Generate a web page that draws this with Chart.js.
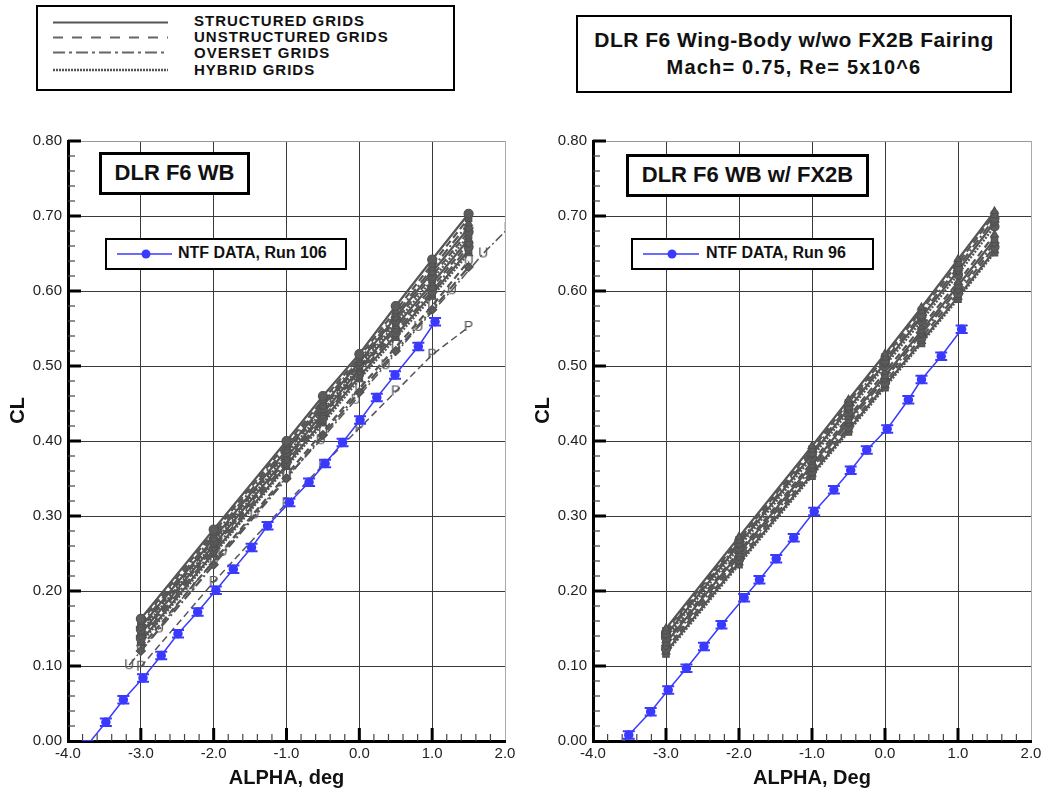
<!DOCTYPE html>
<html>
<head>
<meta charset="utf-8">
<title>DLR F6 CL vs ALPHA</title>
<script src="https://cdn.jsdelivr.net/npm/chart.js@4.4.1/dist/chart.umd.min.js"></script>
<style>
    body { margin: 0; background: #fff; font-family: "Liberation Sans", Arial, sans-serif; }
    #page { position: relative; width: 1048px; height: 793px; overflow: hidden; background: #fff; }
    canvas { position: absolute; }
    .box { position: absolute; box-sizing: border-box; border: 2.5px solid #000; background: #fff; }
    .txt { position: absolute; font-weight: bold; color: #111; white-space: nowrap; }
    svg { position: absolute; left: 0; top: 0; }
</style>
</head>
<body>
<div id="page">
    <canvas id="chart_wb" width="520" height="683" style="left:0; top:110px;"></canvas>
    <canvas id="chart_fx2b" width="523" height="683" style="left:525px; top:110px;"></canvas>

    <!-- grid type legend -->
    <div class="box" style="left:36px; top:5px; width:419px; height:86px;"></div>
    <div class="txt" style="left:194px; top:12px; font-size:15px; letter-spacing:1px;">STRUCTURED GRIDS</div>
    <div class="txt" style="left:194px; top:28px; font-size:15px; letter-spacing:1px;">UNSTRUCTURED GRIDS</div>
    <div class="txt" style="left:194px; top:44px; font-size:15px; letter-spacing:1px;">OVERSET GRIDS</div>
    <div class="txt" style="left:194px; top:61px; font-size:15px; letter-spacing:1px;">HYBRID GRIDS</div>

    <!-- title box -->
    <div class="box" style="left:576px; top:15px; width:436px; height:78px;"></div>
    <div class="txt" style="left:576px; width:436px; top:28px; font-size:21px; letter-spacing:0.5px; text-align:center;">DLR F6 Wing-Body w/wo FX2B Fairing</div>
    <div class="txt" style="left:576px; width:436px; top:56px; font-size:20px; letter-spacing:1.2px; text-align:center;">Mach= 0.75, Re= 5x10^6</div>

    <!-- labels inside the plots -->
    <div class="box" style="left:99px; top:152px; width:151px; height:43px; border-width:3px;"></div>
    <div class="txt" style="left:99px; width:151px; top:160px; font-size:22px; text-align:center;">DLR F6 WB</div>
    <div class="box" style="left:105px; top:238px; width:242px; height:32px;"></div>
    <div class="txt" style="left:178px; top:244px; font-size:16px;">NTF DATA, Run 106</div>

    <div class="box" style="left:626px; top:154px; width:243px; height:43px; border-width:3px;"></div>
    <div class="txt" style="left:626px; width:243px; top:162px; font-size:22px; text-align:center;">DLR F6 WB w/ FX2B</div>
    <div class="box" style="left:631px; top:238px; width:243px; height:32px;"></div>
    <div class="txt" style="left:706px; top:244px; font-size:16px;">NTF DATA, Run 96</div>

    <svg width="1048" height="300">
        <line x1="53" y1="22.5" x2="168" y2="22.5" stroke="#555" stroke-width="2"/>
        <line x1="53" y1="37.5" x2="168" y2="37.5" stroke="#666" stroke-width="2" stroke-dasharray="10,9"/>
        <line x1="53" y1="52.5" x2="168" y2="52.5" stroke="#666" stroke-width="2" stroke-dasharray="12,4,3,4"/>
        <line x1="53" y1="70" x2="168" y2="70" stroke="#555" stroke-width="2.5" stroke-dasharray="2,1"/>
        <line x1="117" y1="254" x2="172" y2="254" stroke="#3a3aff" stroke-width="1.5"/>
        <circle cx="146" cy="254" r="4.5" fill="#3a3aff"/>
        <line x1="643" y1="254" x2="699" y2="254" stroke="#3a3aff" stroke-width="1.5"/>
        <circle cx="672" cy="254" r="4.5" fill="#3a3aff"/>
    </svg>
</div>

<script>
// Alpha values of the CFD polars (deg)
var alphaCfd = [-3.0, -2.0, -1.0, -0.5, 0.0, 0.5, 1.0, 1.5];

// DLR F6 WB - CFD CL, one array per solution
var wbStruct1 = [0.163, 0.282, 0.400, 0.460, 0.516, 0.580, 0.642, 0.703];
var wbUnstr1  = [0.159, 0.278, 0.396, 0.455, 0.512, 0.574, 0.636, 0.697];
var wbOver1   = [0.155, 0.274, 0.392, 0.451, 0.508, 0.569, 0.630, 0.690];
var wbStruct2 = [0.152, 0.270, 0.388, 0.447, 0.505, 0.565, 0.625, 0.684];
var wbUnstr2  = [0.149, 0.267, 0.385, 0.444, 0.502, 0.561, 0.620, 0.679];
var wbHybrid1 = [0.146, 0.264, 0.382, 0.441, 0.499, 0.557, 0.615, 0.674];
var wbStruct3 = [0.143, 0.261, 0.378, 0.437, 0.496, 0.553, 0.610, 0.669];
var wbUnstr3  = [0.140, 0.258, 0.375, 0.434, 0.493, 0.549, 0.605, 0.664];
var wbOver2   = [0.137, 0.255, 0.372, 0.431, 0.490, 0.545, 0.600, 0.659];
var wbStruct4 = [0.133, 0.251, 0.368, 0.427, 0.486, 0.541, 0.596, 0.654];
var wbHybrid2 = [0.130, 0.248, 0.365, 0.423, 0.482, 0.537, 0.592, 0.650];
var wbUnstr4  = [0.125, 0.240, 0.355, 0.412, 0.470, 0.525, 0.580, 0.640];
var wbOver3   = [0.120, 0.235, 0.350, 0.408, 0.465, 0.520, 0.575, 0.632];

// DLR F6 WB - outlier solutions drawn with letter symbols
var wbUAlpha = [-3.16, -2.75, -2.32, -1.88, -1.44, -1.00, -0.53, -0.05, 0.36, 0.81, 1.27, 1.70, 2.05];
var wbUCL    = [0.101, 0.150, 0.204, 0.252, 0.302, 0.352, 0.401, 0.455, 0.501, 0.552, 0.601, 0.650, 0.684];
var wbPCL    = [0.099, 0.212, 0.317, 0.368, 0.417, 0.466, 0.515, 0.552];

// DLR F6 WB w/ FX2B - CFD CL
var fxStruct1 = [0.150, 0.272, 0.393, 0.455, 0.516, 0.578, 0.642, 0.706];
var fxUnstr1  = [0.147, 0.268, 0.389, 0.451, 0.512, 0.574, 0.637, 0.702];
var fxOver1   = [0.144, 0.265, 0.385, 0.447, 0.508, 0.569, 0.632, 0.697];
var fxStruct2 = [0.141, 0.262, 0.382, 0.443, 0.504, 0.565, 0.627, 0.692];
var fxHybrid1 = [0.138, 0.258, 0.378, 0.439, 0.500, 0.560, 0.622, 0.686];
var fxUnstr2  = [0.134, 0.253, 0.372, 0.432, 0.492, 0.552, 0.612, 0.675];
var fxStruct3 = [0.131, 0.250, 0.368, 0.428, 0.487, 0.547, 0.607, 0.669];
var fxOver2   = [0.127, 0.246, 0.364, 0.424, 0.483, 0.543, 0.602, 0.664];
var fxUnstr3  = [0.123, 0.242, 0.360, 0.419, 0.478, 0.538, 0.597, 0.659];
var fxStruct4 = [0.119, 0.238, 0.356, 0.415, 0.474, 0.533, 0.592, 0.654];
var fxHybrid2 = [0.116, 0.235, 0.353, 0.412, 0.471, 0.530, 0.589, 0.651];

// NTF test data
var ntf106Alpha = [-3.73, -3.48, -3.24, -2.97, -2.72, -2.49, -2.22, -1.97, -1.73, -1.48, -1.26, -0.96, -0.69, -0.47, -0.23, 0.01, 0.24, 0.49, 0.81, 1.04];
var ntf106CL    = [-0.005, 0.025, 0.055, 0.084, 0.114, 0.143, 0.172, 0.201, 0.229, 0.258, 0.287, 0.318, 0.345, 0.370, 0.398, 0.428, 0.458, 0.488, 0.526, 0.559];
var ntf96Alpha  = [-3.76, -3.51, -3.21, -2.97, -2.72, -2.48, -2.24, -1.93, -1.72, -1.49, -1.25, -0.97, -0.70, -0.47, -0.25, 0.03, 0.32, 0.50, 0.77, 1.05];
var ntf96CL     = [-0.022, 0.008, 0.039, 0.068, 0.097, 0.126, 0.155, 0.191, 0.215, 0.243, 0.271, 0.306, 0.335, 0.361, 0.388, 0.416, 0.455, 0.482, 0.513, 0.549];
var ntfErr = 0.005;

// Axis ticks
var xTickStep = 1.0, xMinorStep = 0.2;
var yTickStep = 0.1, yMinorStep = 0.02;

var cfdColor = '#555555';
var ntfColor = '#3a3aff';
var dashStyles = {
    structured: [],
    unstructured: [7, 4],
    overset: [9, 3, 2, 3],
    hybrid: [2, 1.5]
};

// Tecplot style ticks drawn inside the frame
var innerTicksPlugin = {
    id: 'innerTicks',
    afterDatasetsDraw: function(chart) {
        var ctx = chart.ctx;
        var xs = chart.scales.x, ys = chart.scales.y;
        var area = chart.chartArea;
        var i, n, v, p, bMajor;
        ctx.save();
        n = Math.round((xs.max - xs.min) / xMinorStep);
        for (i = 1; i < n; i++) {
            v = xs.min + i * xMinorStep;
            p = xs.getPixelForValue(v);
            bMajor = i % Math.round(xTickStep / xMinorStep) === 0;
            ctx.strokeStyle = bMajor ? '#000' : '#444';
            ctx.lineWidth = bMajor ? 3 : 1.2;
            ctx.beginPath();
            ctx.moveTo(p, area.bottom);
            ctx.lineTo(p, area.bottom - (bMajor ? 13 : 7));
            ctx.stroke();
        }
        n = Math.round((ys.max - ys.min) / yMinorStep);
        for (i = 1; i <= n; i++) {
            v = ys.min + i * yMinorStep;
            p = ys.getPixelForValue(v);
            bMajor = i % Math.round(yTickStep / yMinorStep) === 0;
            ctx.strokeStyle = bMajor ? '#000' : '#444';
            ctx.lineWidth = bMajor ? 3 : 1.2;
            ctx.beginPath();
            ctx.moveTo(area.left, p);
            ctx.lineTo(area.left + (bMajor ? 13 : 7), p);
            ctx.stroke();
        }
        ctx.restore();
    }
};

// I-shaped error bars on the NTF points
var errorBarsPlugin = {
    id: 'errorBars',
    afterDatasetsDraw: function(chart) {
        var ctx = chart.ctx;
        var xs = chart.scales.x, ys = chart.scales.y;
        var area = chart.chartArea;
        ctx.save();
        ctx.beginPath();
        ctx.rect(area.left, area.top, area.right - area.left, area.bottom - area.top);
        ctx.clip();
        chart.data.datasets.forEach(function(ds) {
            if (!ds.errorBar) return;
            ctx.strokeStyle = ds.borderColor;
            ctx.lineWidth = 2;
            ds.data.forEach(function(pt) {
                var px = xs.getPixelForValue(pt.x);
                var pTop = ys.getPixelForValue(pt.y + ds.errorBar);
                var pBot = ys.getPixelForValue(pt.y - ds.errorBar);
                ctx.beginPath();
                ctx.moveTo(px, pTop); ctx.lineTo(px, pBot);
                ctx.moveTo(px - 6, pTop); ctx.lineTo(px + 6, pTop);
                ctx.moveTo(px - 6, pBot); ctx.lineTo(px + 6, pBot);
                ctx.stroke();
            });
        });
        ctx.restore();
    }
};

function make_letter_marker(strLetter) {
    var el = document.createElement('canvas');
    el.width = 12;
    el.height = 14;
    var c = el.getContext('2d');
    c.fillStyle = '#555';
    c.font = '14px "Liberation Sans", Arial, sans-serif';
    c.textAlign = 'center';
    c.textBaseline = 'middle';
    c.fillText(strLetter, 6, 7.5);
    return el;
}

function make_cfd_dataset(arrAlpha, arrCL, strType, marker) {
    var nLast = alphaCfd.length - 1;
    return {
        data: arrAlpha.map(function(a, i) { return {x: a, y: arrCL[i]}; }),
        showLine: true,
        borderColor: cfdColor,
        borderWidth: 2.2,
        borderDash: dashStyles[strType],
        pointStyle: marker,
        pointRadius: 4.5,
        pointBackgroundColor: '#5c5c5c',
        pointBorderColor: '#505050',
        pointBorderWidth: 1.2
    };
}

function make_ntf_dataset(arrAlpha, arrCL) {
    return {
        data: arrAlpha.map(function(a, i) { return {x: a, y: arrCL[i]}; }),
        showLine: true,
        borderColor: ntfColor,
        borderWidth: 1.5,
        pointStyle: 'circle',
        pointRadius: 4,
        pointBackgroundColor: ntfColor,
        pointBorderColor: ntfColor,
        errorBar: ntfErr
    };
}

function make_options(strXTitle) {
    var font = '"Liberation Sans", Arial, sans-serif';
    return {
        responsive: false,
        animation: false,
        layout: { padding: { top: 31, right: 15, left: 0, bottom: 0 } },
        plugins: { legend: { display: false }, tooltip: { enabled: false } },
        scales: {
            x: {
                type: 'linear', min: -4, max: 2,
                afterFit: function(scale) { scale.height = 52; },
                ticks: {
                    stepSize: xTickStep, autoSkip: false, maxRotation: 0, padding: 4,
                    color: '#222', font: { family: font, size: 15 },
                    callback: function(v) { return v.toFixed(1); }
                },
                grid: {
                    drawTicks: false, lineWidth: 1,
                    color: function(c) { return c.tick && c.tick.value === 2 ? '#aaa' : '#3a3a3a'; }
                },
                border: { color: '#000', width: 3 },
                title: { display: true, text: strXTitle, color: '#111', font: { family: font, size: 20, weight: 'bold' }, padding: { top: 0, bottom: 3 } }
            },
            y: {
                type: 'linear', min: 0, max: 0.8,
                afterFit: function(scale) { scale.width = 68; },
                ticks: {
                    stepSize: yTickStep, autoSkip: false, padding: 6,
                    color: '#222', font: { family: font, size: 15 },
                    callback: function(v) { return v.toFixed(2); }
                },
                grid: {
                    drawTicks: false, lineWidth: 1,
                    color: function(c) { return c.tick && Math.abs(c.tick.value - 0.8) < 1e-6 ? '#999' : '#3a3a3a'; }
                },
                border: { color: '#000', width: 3 },
                title: { display: true, text: '           CL', color: '#111', font: { family: font, size: 20, weight: 'bold' }, padding: { top: 6, bottom: 0 } }
            }
        }
    };
}

function draw_chart_wb() {
    // Get Chart Data
    var markerU = make_letter_marker('U');
    var markerP = make_letter_marker('P');
    var dsU = make_cfd_dataset(wbUAlpha, wbUCL, 'overset', markerU);
    var dsP = make_cfd_dataset(alphaCfd, wbPCL, 'unstructured', markerP);
    dsU.borderWidth = 1.5;
    dsP.borderWidth = 1.5;
    var objData = {
        datasets: [
            make_ntf_dataset(ntf106Alpha, ntf106CL),
            make_cfd_dataset(alphaCfd, wbStruct1, 'structured', 'circle'),
            make_cfd_dataset(alphaCfd, wbUnstr1, 'unstructured', 'rect'),
            make_cfd_dataset(alphaCfd, wbOver1, 'overset', 'triangle'),
            make_cfd_dataset(alphaCfd, wbStruct2, 'structured', 'rectRot'),
            make_cfd_dataset(alphaCfd, wbUnstr2, 'unstructured', 'circle'),
            make_cfd_dataset(alphaCfd, wbHybrid1, 'hybrid', 'rect'),
            make_cfd_dataset(alphaCfd, wbStruct3, 'structured', 'triangle'),
            make_cfd_dataset(alphaCfd, wbUnstr3, 'unstructured', 'rectRot'),
            make_cfd_dataset(alphaCfd, wbOver2, 'overset', 'circle'),
            make_cfd_dataset(alphaCfd, wbStruct4, 'structured', 'rect'),
            make_cfd_dataset(alphaCfd, wbHybrid2, 'hybrid', 'triangle'),
            make_cfd_dataset(alphaCfd, wbUnstr4, 'unstructured', markerU),
            make_cfd_dataset(alphaCfd, wbOver3, 'overset', 'rectRot'),
            dsU,
            dsP
        ]
    };

    // Config Options
    var objOptions = make_options('ALPHA, deg');

    // Draw Chart
    var elChart = document.getElementById('chart_wb');
    var objChart = new Chart(elChart, {
        type: 'scatter',
        data: objData,
        options: objOptions,
        plugins: [innerTicksPlugin, errorBarsPlugin]
    });
}

function draw_chart_fx2b() {
    // Get Chart Data
    var objData = {
        datasets: [
            make_ntf_dataset(ntf96Alpha, ntf96CL),
            make_cfd_dataset(alphaCfd, fxStruct1, 'structured', 'triangle'),
            make_cfd_dataset(alphaCfd, fxUnstr1, 'unstructured', 'rect'),
            make_cfd_dataset(alphaCfd, fxOver1, 'overset', 'circle'),
            make_cfd_dataset(alphaCfd, fxStruct2, 'structured', 'rectRot'),
            make_cfd_dataset(alphaCfd, fxHybrid1, 'hybrid', 'circle'),
            make_cfd_dataset(alphaCfd, fxUnstr2, 'unstructured', 'triangle'),
            make_cfd_dataset(alphaCfd, fxStruct3, 'structured', 'rect'),
            make_cfd_dataset(alphaCfd, fxOver2, 'overset', 'rectRot'),
            make_cfd_dataset(alphaCfd, fxUnstr3, 'unstructured', 'circle'),
            make_cfd_dataset(alphaCfd, fxStruct4, 'structured', 'triangle'),
            make_cfd_dataset(alphaCfd, fxHybrid2, 'hybrid', 'rect')
        ]
    };

    // Config Options
    var objOptions = make_options('ALPHA, Deg');
    objOptions.layout.padding.right = 17;

    // Draw Chart
    var elChart = document.getElementById('chart_fx2b');
    var objChart = new Chart(elChart, {
        type: 'scatter',
        data: objData,
        options: objOptions,
        plugins: [innerTicksPlugin, errorBarsPlugin]
    });
}

draw_chart_wb();
draw_chart_fx2b();
</script>
</body>
</html>
